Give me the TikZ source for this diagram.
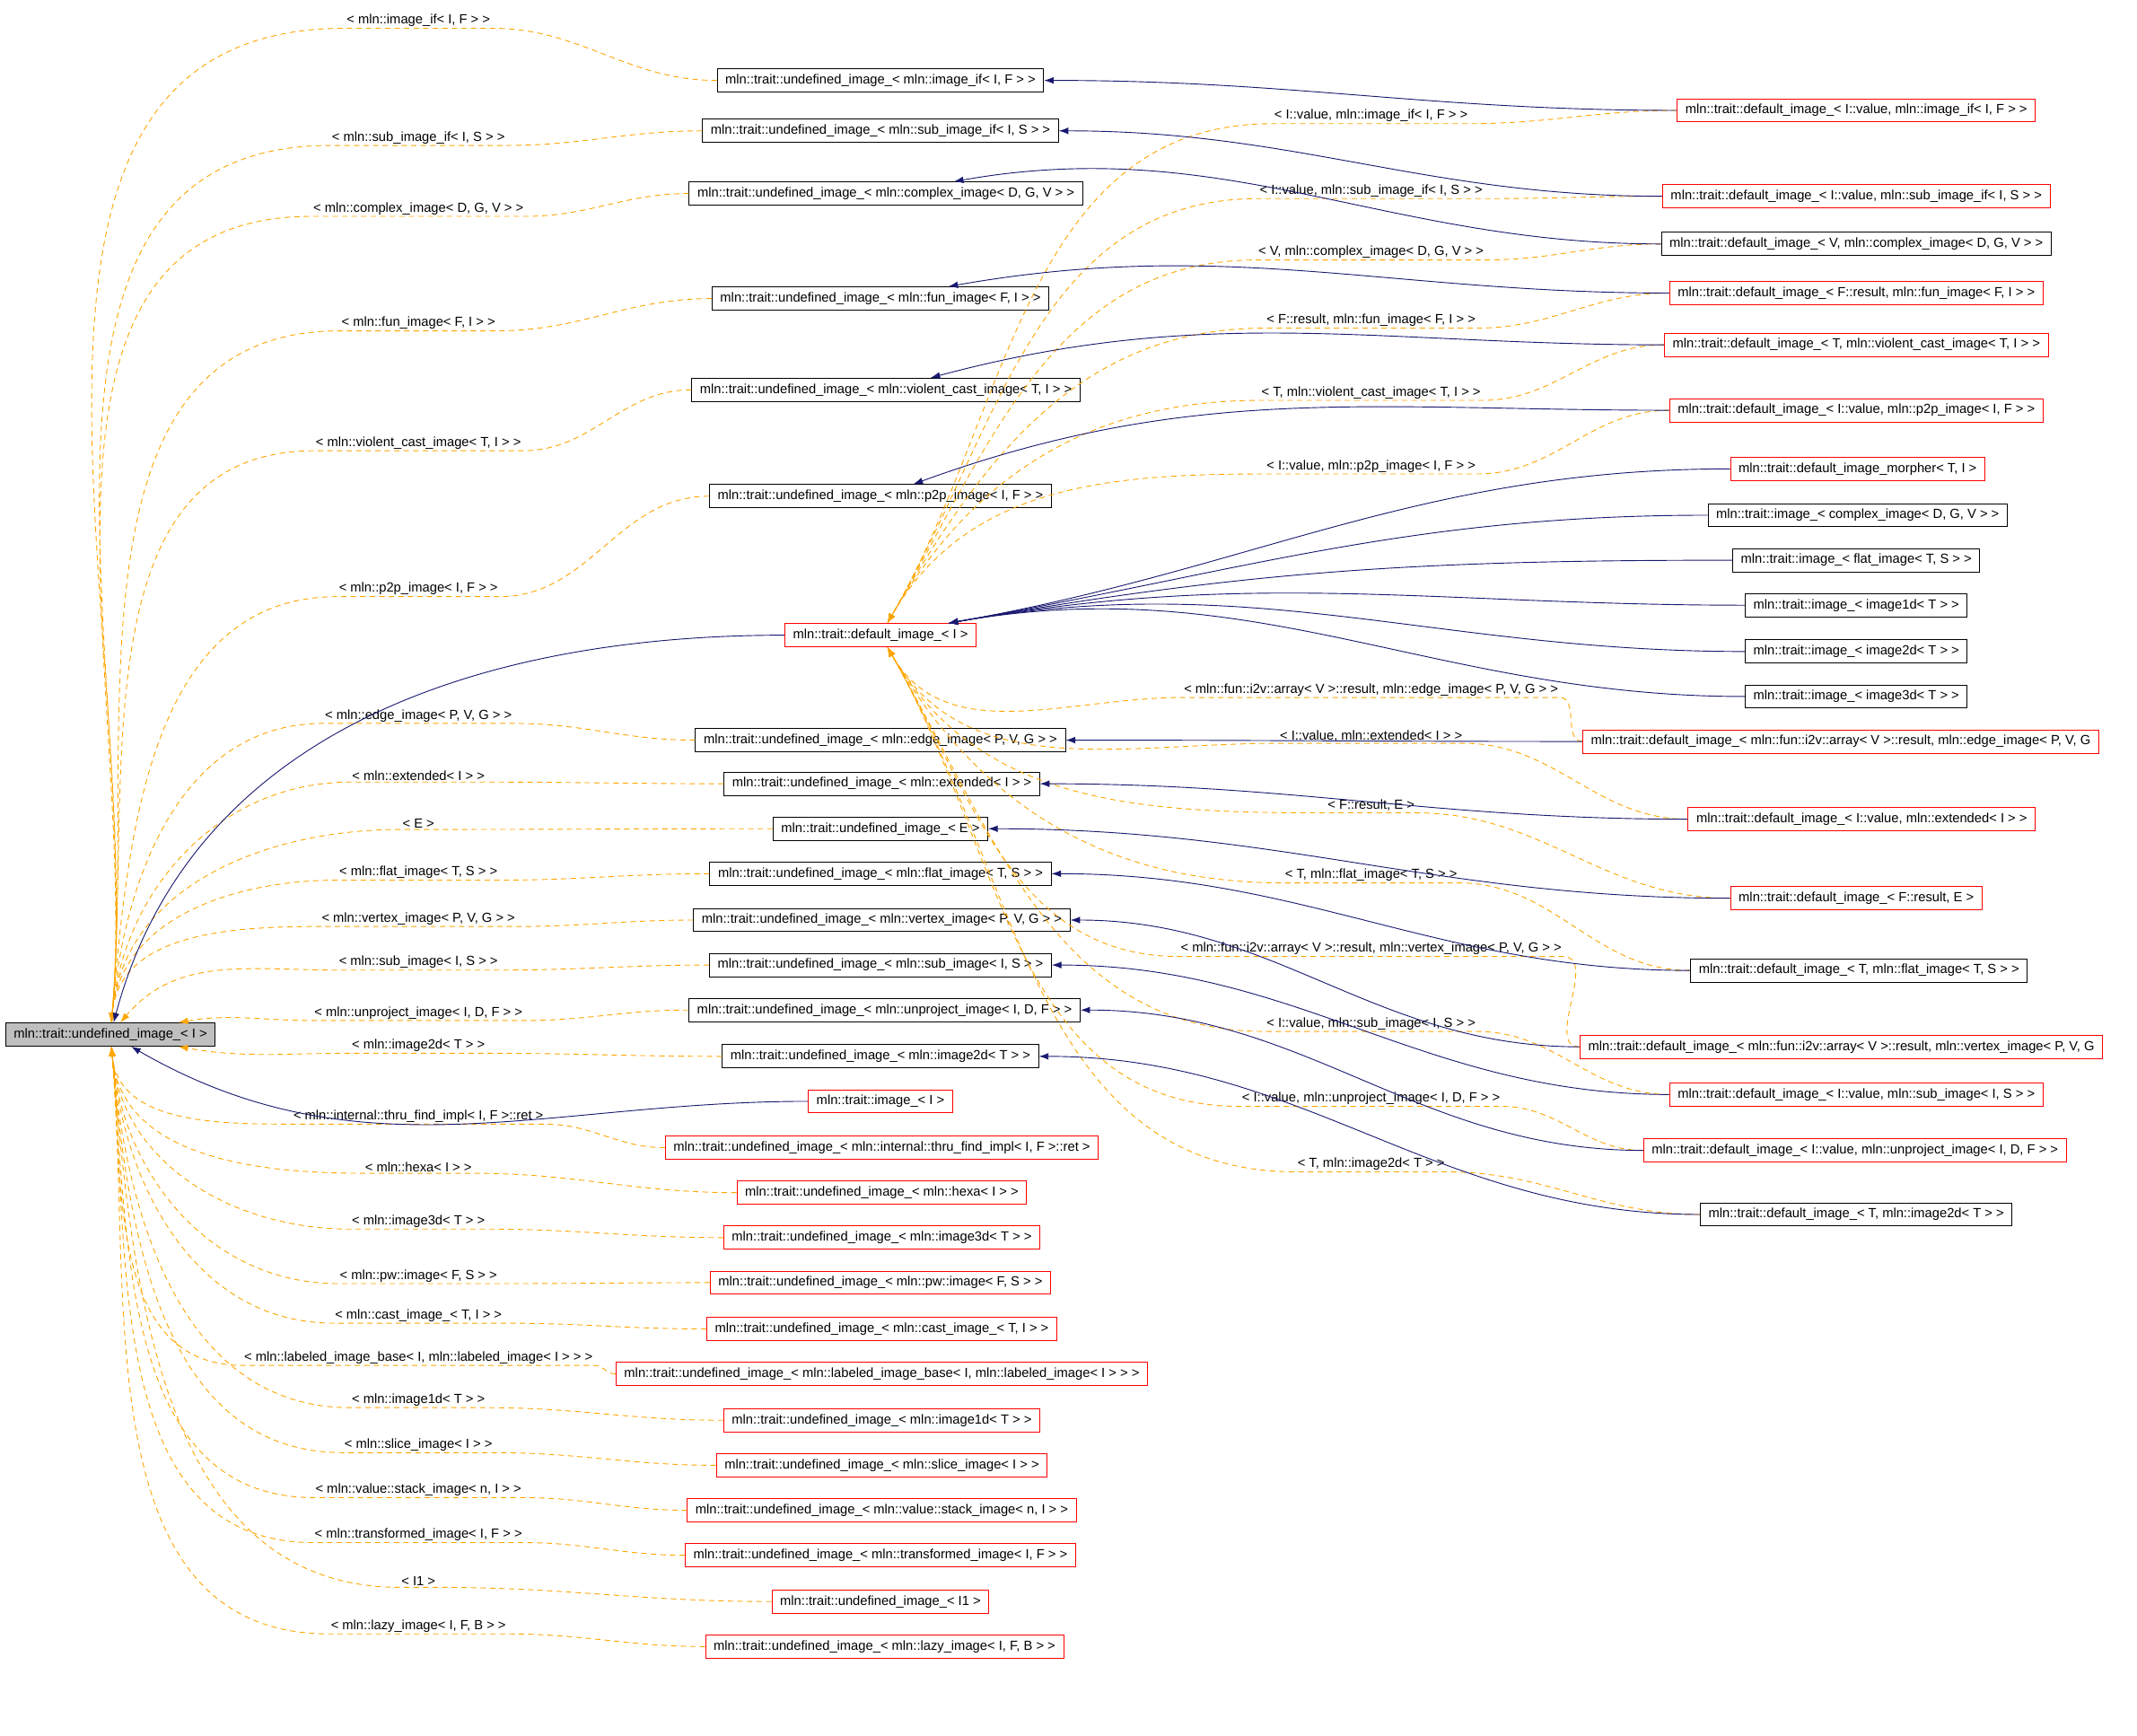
\documentclass[tikz,border=0pt]{standalone}
\usepackage{fontspec}
\setmainfont{Liberation Sans}
\usetikzlibrary{arrows.meta}
\definecolor{navyc}{HTML}{191970}
\definecolor{orac}{HTML}{FFA500}
\begin{document}
\begin{tikzpicture}[x=1pt,y=1pt,font=\fontsize{9.7}{10}\selectfont,
 bx/.style={draw=black,fill=white,inner xsep=6pt,inner ysep=2pt,minimum height=17pt,line width=0.6pt},
 nb/.style={bx},
 nr/.style={bx,draw=red},
 nroot/.style={bx,fill=black!25},
 lab/.style={inner sep=1pt},
 nav/.style={draw=navyc,line width=0.6pt,-{Latex[length=7pt,width=5pt]}},
 ora/.style={draw=orac,line width=0.6pt,dash pattern=on 4pt off 3pt,-{Latex[length=7pt,width=5pt]}}]
\useasboundingbox (0,0) rectangle (1568,-1273);
% left labels
\foreach \t/\y [count=\i] in {{< mln::image\_if< I, F > >}/15,{< mln::sub\_image\_if< I, S > >}/101,{< mln::complex\_image< D, G, V > >}/153,{< mln::fun\_image< F, I > >}/237,{< mln::violent\_cast\_image< T, I > >}/325,{< mln::p2p\_image< I, F > >}/432,{< mln::edge\_image< P, V, G > >}/525,{< mln::extended< I > >}/569,{< E >}/604,{< mln::flat\_image< T, S > >}/640,{< mln::vertex\_image< P, V, G > >}/674,{< mln::sub\_image< I, S > >}/706,{< mln::unproject\_image< I, D, F > >}/743,{< mln::image2d< T > >}/767,{< mln::internal::thru\_find\_impl< I, F >::ret >}/819,{< mln::hexa< I > >}/856,{< mln::image3d< T > >}/896,{< mln::pw::image< F, S > >}/936,{< mln::cast\_image\_< T, I > >}/965,{< mln::labeled\_image\_base< I, mln::labeled\_image< I > > >}/996,{< mln::image1d< T > >}/1027,{< mln::slice\_image< I > >}/1060,{< mln::value::stack\_image< n, I > >}/1093,{< mln::transformed\_image< I, F > >}/1126,{< I1 >}/1160,{< mln::lazy\_image< I, F, B > >}/1193}
  \node[lab] (l\i) at (307,-\y) {\t};
% right labels
\foreach \t/\y [count=\i] in {{< I::value, mln::image\_if< I, F > >}/85,{< I::value, mln::sub\_image\_if< I, S > >}/140,{< V, mln::complex\_image< D, G, V > >}/185,{< F::result, mln::fun\_image< F, I > >}/235,{< T, mln::violent\_cast\_image< T, I > >}/288,{< I::value, mln::p2p\_image< I, F > >}/342,{< mln::fun::i2v::array< V >::result, mln::edge\_image< P, V, G > >}/506,{< I::value, mln::extended< I > >}/540,{< F::result, E >}/591,{< T, mln::flat\_image< T, S > >}/642,{< mln::fun::i2v::array< V >::result, mln::vertex\_image< P, V, G > >}/696,{< I::value, mln::sub\_image< I, S > >}/751,{< I::value, mln::unproject\_image< I, D, F > >}/806,{< T, mln::image2d< T > >}/854}
  \node[lab] (q\i) at (1006,-\y) {\t};
\node[nroot] (root) at (81,-759) {mln::trait::undefined\_image\_< I >};
% left column
\node[nb] (n1) at (646,-59) {mln::trait::undefined\_image\_< mln::image\_if< I, F > >};
\node[nb] (n2) at (646,-96) {mln::trait::undefined\_image\_< mln::sub\_image\_if< I, S > >};
\node[nb] (n3) at (650,-142) {mln::trait::undefined\_image\_< mln::complex\_image< D, G, V > >};
\node[nb] (n4) at (646,-219) {mln::trait::undefined\_image\_< mln::fun\_image< F, I > >};
\node[nb] (n5) at (650,-286) {mln::trait::undefined\_image\_< mln::violent\_cast\_image< T, I > >};
\node[nb] (n6) at (646,-364) {mln::trait::undefined\_image\_< mln::p2p\_image< I, F > >};
\node[nr] (dimg) at (646,-466) {mln::trait::default\_image\_< I >};
\node[nb] (n7) at (646,-543) {mln::trait::undefined\_image\_< mln::edge\_image< P, V, G > >};
\node[nb] (n8) at (647,-575) {mln::trait::undefined\_image\_< mln::extended< I > >};
\node[nb] (n9) at (646,-608) {mln::trait::undefined\_image\_< E >};
\node[nb] (n10) at (646,-641) {mln::trait::undefined\_image\_< mln::flat\_image< T, S > >};
\node[nb] (n11) at (647,-675) {mln::trait::undefined\_image\_< mln::vertex\_image< P, V, G > >};
\node[nb] (n12) at (646,-708) {mln::trait::undefined\_image\_< mln::sub\_image< I, S > >};
\node[nb] (n13) at (649,-741) {mln::trait::undefined\_image\_< mln::unproject\_image< I, D, F > >};
\node[nb] (n14) at (646,-775) {mln::trait::undefined\_image\_< mln::image2d< T > >};
\node[nr] (img) at (646,-808) {mln::trait::image\_< I >};
\node[nr] (m1) at (647,-842) {mln::trait::undefined\_image\_< mln::internal::thru\_find\_impl< I, F >::ret >};
\node[nr] (m2) at (647,-875) {mln::trait::undefined\_image\_< mln::hexa< I > >};
\node[nr] (m3) at (647,-908) {mln::trait::undefined\_image\_< mln::image3d< T > >};
\node[nr] (m4) at (646,-941) {mln::trait::undefined\_image\_< mln::pw::image< F, S > >};
\node[nr] (m5) at (647,-975) {mln::trait::undefined\_image\_< mln::cast\_image\_< T, I > >};
\node[nr] (m6) at (647,-1008) {mln::trait::undefined\_image\_< mln::labeled\_image\_base< I, mln::labeled\_image< I > > >};
\node[nr] (m7) at (647,-1042) {mln::trait::undefined\_image\_< mln::image1d< T > >};
\node[nr] (m8) at (647,-1075) {mln::trait::undefined\_image\_< mln::slice\_image< I > >};
\node[nr] (m9) at (647,-1108) {mln::trait::undefined\_image\_< mln::value::stack\_image< n, I > >};
\node[nr] (m10) at (646,-1141) {mln::trait::undefined\_image\_< mln::transformed\_image< I, F > >};
\node[nr] (m11) at (646,-1175) {mln::trait::undefined\_image\_< I1 >};
\node[nr] (m12) at (649,-1208) {mln::trait::undefined\_image\_< mln::lazy\_image< I, F, B > >};
% right column
\node[nr] (r1) at (1362,-81) {mln::trait::default\_image\_< I::value, mln::image\_if< I, F > >};
\node[nr] (r2) at (1362,-144) {mln::trait::default\_image\_< I::value, mln::sub\_image\_if< I, S > >};
\node[nb] (r3) at (1362,-179) {mln::trait::default\_image\_< V, mln::complex\_image< D, G, V > >};
\node[nr] (r4) at (1362,-215) {mln::trait::default\_image\_< F::result, mln::fun\_image< F, I > >};
\node[nr] (r5) at (1362,-253) {mln::trait::default\_image\_< T, mln::violent\_cast\_image< T, I > >};
\node[nr] (r6) at (1362,-301) {mln::trait::default\_image\_< I::value, mln::p2p\_image< I, F > >};
\node[nr] (r7) at (1363,-344) {mln::trait::default\_image\_morpher< T, I >};
\node[nb] (r8) at (1363,-378) {mln::trait::image\_< complex\_image< D, G, V > >};
\node[nb] (r9) at (1362,-411) {mln::trait::image\_< flat\_image< T, S > >};
\node[nb] (r10) at (1362,-444) {mln::trait::image\_< image1d< T > >};
\node[nb] (r11) at (1362,-478) {mln::trait::image\_< image2d< T > >};
\node[nb] (r12) at (1362,-511) {mln::trait::image\_< image3d< T > >};
\node[nr,anchor=west] (r13) at (1161,-544) {mln::trait::default\_image\_< mln::fun::i2v::array< V >::result, mln::edge\_image< P, V, G};
\node[nr] (r14) at (1366,-601) {mln::trait::default\_image\_< I::value, mln::extended< I > >};
\node[nr] (r15) at (1362,-659) {mln::trait::default\_image\_< F::result, E >};
\node[nb] (r16) at (1364,-712) {mln::trait::default\_image\_< T, mln::flat\_image< T, S > >};
\node[nr,anchor=west] (r17) at (1159,-768) {mln::trait::default\_image\_< mln::fun::i2v::array< V >::result, mln::vertex\_image< P, V, G};
\node[nr] (r18) at (1362,-803) {mln::trait::default\_image\_< I::value, mln::sub\_image< I, S > >};
\node[nr] (r19) at (1361,-844) {mln::trait::default\_image\_< I::value, mln::unproject\_image< I, D, F > >};
\node[nb] (r20) at (1362,-891) {mln::trait::default\_image\_< T, mln::image2d< T > >};
% orange edges to root via labels
\foreach \n/\l in {n1/1,n2/2,n3/3,n4/4,n5/5,n6/6,n7/7,n8/8,n9/9,n10/10,n11/11}
  \draw[ora] (\n.west) to[out=180,in=0] (l\l.south east) -- (l\l.south west) to[out=180,in=85] (root);
\draw[ora] (n12.west) to[out=180,in=0] (l12.south east) -- (l12.south west) to[out=180,in=50] (root);
\draw[ora] (n13.west) to[out=180,in=0] (l13.south east) -- (l13.south west) to[out=180,in=10] (root);
\draw[ora] (n14.west) to[out=180,in=0] (l14.south east) -- (l14.south west) to[out=180,in=-10] (root);
\foreach \n/\l in {m1/15,m2/16,m3/17,m4/18,m5/19,m6/20,m7/21,m8/22,m9/23,m10/24,m11/25,m12/26}
  \draw[ora] (\n.west) to[out=180,in=0] (l\l.south east) -- (l\l.south west) to[out=180,in=-85] (root);
% navy to root
\draw[nav] (dimg) to[out=180,in=75] (root);
\draw[nav] (img) to[out=180,in=-30] (root);
% orange right edges to dimg via labels
\foreach \n/\l in {r1/1,r2/2,r3/3,r4/4,r5/5,r6/6}
  \draw[ora] (\n.west) to[out=180,in=0] (q\l.south east) -- (q\l.south west) to[out=180,in=60] (dimg);
\foreach \n/\l in {r13/7,r14/8,r15/9,r16/10,r17/11,r18/12,r19/13,r20/14}
  \draw[ora] (\n.west) to[out=180,in=0] (q\l.south east) -- (q\l.south west) to[out=180,in=-60] (dimg);
% navy right edges
\draw[nav] (r1) to[out=180,in=0] (n1);
\draw[nav] (r2) to[out=180,in=0] (n2);
\draw[nav] (r3) to[out=180,in=10] (n3);
\draw[nav] (r4) to[out=180,in=10] (n4);
\draw[nav] (r5) to[out=180,in=15] (n5);
\draw[nav] (r6) to[out=180,in=20] (n6);
\foreach \n in {r7,r8,r9,r10,r11,r12}
  \draw[nav] (\n) to[out=180,in=10] (dimg);
\draw[nav] (r13) to[out=180,in=0] (n7);
\draw[nav] (r14) to[out=180,in=0] (n8);
\foreach \a/\b in {r15/n9,r16/n10,r17/n11,r18/n12,r19/n13,r20/n14}
  \draw[nav] (\a) to[out=180,in=0] (\b);
\end{tikzpicture}
\end{document}
